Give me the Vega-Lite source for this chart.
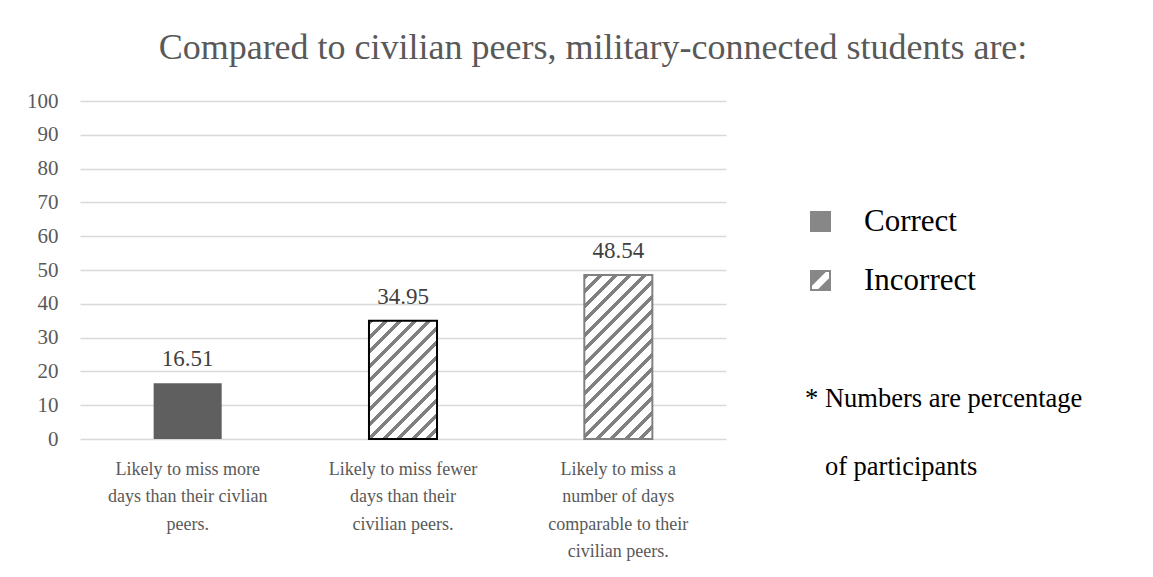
{
  "$schema": "https://vega.github.io/schema/vega-lite/v6.json",
  "autosize": {"type": "none"},
  "padding": {"left": 80, "top": 101, "right": 427, "bottom": 138},
  "width": 646,
  "height": 338,
  "background": "#ffffff",
  "title": {
    "text": "Compared to civilian peers, military-connected students are:",
    "font": "Liberation Serif",
    "fontSize": 36,
    "fontWeight": "normal",
    "color": "#595959",
    "anchor": "middle",
    "dx": 190,
    "offset": 23
  },
  "config": {
    "view": {"stroke": null},
    "font": "Liberation Serif"
  },
  "data": {
    "values": [
      {"statement": "Likely to miss more days than their civlian peers.", "result": "Correct", "percent": 16.51},
      {"statement": "Likely to miss fewer days than their civilian peers.", "result": "Incorrect", "percent": 34.95},
      {"statement": "Likely to miss a number of days comparable to their civilian peers.", "result": "Incorrect", "percent": 48.54}
    ]
  },
  "encoding": {
    "x": {
      "field": "statement",
      "type": "nominal",
      "sort": null,
      "scale": {"paddingInner": 0.684, "paddingOuter": 0.342},
      "axis": {
        "title": null,
        "domain": false,
        "ticks": false,
        "labelAngle": 0,
        "labelFont": "Liberation Serif",
        "labelFontSize": 18,
        "labelLineHeight": 27.5,
        "labelColor": "#595959",
        "labelPadding": 21,
        "labelLimit": 0,
        "labelExpr": "indexof(datum.value, 'more') >= 0 ? ['Likely to miss more', 'days than their civlian', 'peers.'] : indexof(datum.value, 'fewer') >= 0 ? ['Likely to miss fewer', 'days than their', 'civilian peers.'] : ['Likely to miss a', 'number of days', 'comparable to their', 'civilian peers.']"
      }
    },
    "y": {
      "field": "percent",
      "type": "quantitative",
      "scale": {"domain": [0, 100], "nice": false},
      "axis": {
        "title": null,
        "values": [0, 10, 20, 30, 40, 50, 60, 70, 80, 90, 100],
        "domain": false,
        "ticks": false,
        "grid": true,
        "gridColor": "#d9d9d9",
        "gridWidth": 1.3,
        "labelFont": "Liberation Serif",
        "labelFontSize": 21,
        "labelColor": "#595959",
        "labelPadding": 22
      }
    }
  },
  "layer": [
    {
      "mark": {"type": "point", "filled": true, "opacity": 0, "color": "#878787"},
      "encoding": {
        "shape": {
          "field": "result",
          "type": "nominal",
          "scale": {
            "domain": ["Correct", "Incorrect"],
            "range": [
              "square",
              "M-1,-1H1V1H-1Z M-0.81,-0.81V0.81H0.81V-0.81Z M-0.81,-0.81H0.51L-0.81,0.51Z M0.81,-0.21V0.81H-0.21Z"
            ]
          },
          "legend": {
            "title": ["* Numbers are percentage", "\u200b\u00a0\u00a0\u00a0of participants"],
            "titleOrient": "bottom",
            "titleAnchor": "start",
            "titleAlign": "left",
            "titleFont": "Liberation Serif",
            "titleFontSize": 26.5,
            "titleFontWeight": "normal",
            "titleColor": "#000000",
            "titleLineHeight": 68,
            "titleLimit": 500,
            "titlePadding": 90,
            "orient": "none",
            "legendX": 725,
            "legendY": 105,
            "padding": 0,
            "symbolSize": 441,
            "symbolFillColor": "#878787",
            "symbolStrokeWidth": 0,
            "symbolOpacity": 1,
            "labelFont": "Liberation Serif",
            "labelFontSize": 31,
            "labelColor": "#000000",
            "labelOffset": 28,
            "labelLimit": 0,
            "rowPadding": 27
          }
        }
      }
    },
    {
      "mark": {"type": "bar", "strokeWidth": 2},
      "encoding": {
        "fill": {
          "condition": [
            {
              "test": "indexof(datum.statement, 'fewer') >= 0",
              "value": {
                "gradient": "linear", "x1": 0, "y1": 0, "x2": 0.6816, "y2": 1.1834,
                "stops": [
                  {"offset": 0, "color": "#808080"}, {"offset": 0.0273, "color": "#808080"}, {"offset": 0.0273, "color": "#ffffff"}, {"offset": 0.0779, "color": "#ffffff"},
                  {"offset": 0.0779, "color": "#808080"}, {"offset": 0.1052, "color": "#808080"}, {"offset": 0.1052, "color": "#ffffff"}, {"offset": 0.1558, "color": "#ffffff"},
                  {"offset": 0.1558, "color": "#808080"}, {"offset": 0.1830, "color": "#808080"}, {"offset": 0.1830, "color": "#ffffff"}, {"offset": 0.2337, "color": "#ffffff"},
                  {"offset": 0.2337, "color": "#808080"}, {"offset": 0.2609, "color": "#808080"}, {"offset": 0.2609, "color": "#ffffff"}, {"offset": 0.3115, "color": "#ffffff"},
                  {"offset": 0.3115, "color": "#808080"}, {"offset": 0.3388, "color": "#808080"}, {"offset": 0.3388, "color": "#ffffff"}, {"offset": 0.3894, "color": "#ffffff"},
                  {"offset": 0.3894, "color": "#808080"}, {"offset": 0.4167, "color": "#808080"}, {"offset": 0.4167, "color": "#ffffff"}, {"offset": 0.4673, "color": "#ffffff"},
                  {"offset": 0.4673, "color": "#808080"}, {"offset": 0.4946, "color": "#808080"}, {"offset": 0.4946, "color": "#ffffff"}, {"offset": 0.5452, "color": "#ffffff"},
                  {"offset": 0.5452, "color": "#808080"}, {"offset": 0.5725, "color": "#808080"}, {"offset": 0.5725, "color": "#ffffff"}, {"offset": 0.6231, "color": "#ffffff"},
                  {"offset": 0.6231, "color": "#808080"}, {"offset": 0.6504, "color": "#808080"}, {"offset": 0.6504, "color": "#ffffff"}, {"offset": 0.7010, "color": "#ffffff"},
                  {"offset": 0.7010, "color": "#808080"}, {"offset": 0.7282, "color": "#808080"}, {"offset": 0.7282, "color": "#ffffff"}, {"offset": 0.7789, "color": "#ffffff"},
                  {"offset": 0.7789, "color": "#808080"}, {"offset": 0.8061, "color": "#808080"}, {"offset": 0.8061, "color": "#ffffff"}, {"offset": 0.8567, "color": "#ffffff"},
                  {"offset": 0.8567, "color": "#808080"}, {"offset": 0.8840, "color": "#808080"}, {"offset": 0.8840, "color": "#ffffff"}, {"offset": 0.9346, "color": "#ffffff"},
                  {"offset": 0.9346, "color": "#808080"}, {"offset": 0.9619, "color": "#808080"}, {"offset": 0.9619, "color": "#ffffff"}, {"offset": 1, "color": "#ffffff"}
                ]
              }
            },
            {
              "test": "indexof(datum.statement, 'comparable') >= 0",
              "value": {
                "gradient": "linear", "x1": 0, "y1": 0, "x2": 0.5006, "y2": 1.2071,
                "stops": [
                  {"offset": 0, "color": "#808080"}, {"offset": 0.0219, "color": "#808080"}, {"offset": 0.0219, "color": "#ffffff"}, {"offset": 0.0625, "color": "#ffffff"},
                  {"offset": 0.0625, "color": "#808080"}, {"offset": 0.0843, "color": "#808080"}, {"offset": 0.0843, "color": "#ffffff"}, {"offset": 0.1249, "color": "#ffffff"},
                  {"offset": 0.1249, "color": "#808080"}, {"offset": 0.1468, "color": "#808080"}, {"offset": 0.1468, "color": "#ffffff"}, {"offset": 0.1874, "color": "#ffffff"},
                  {"offset": 0.1874, "color": "#808080"}, {"offset": 0.2093, "color": "#808080"}, {"offset": 0.2093, "color": "#ffffff"}, {"offset": 0.2499, "color": "#ffffff"},
                  {"offset": 0.2499, "color": "#808080"}, {"offset": 0.2718, "color": "#808080"}, {"offset": 0.2718, "color": "#ffffff"}, {"offset": 0.3124, "color": "#ffffff"},
                  {"offset": 0.3124, "color": "#808080"}, {"offset": 0.3342, "color": "#808080"}, {"offset": 0.3342, "color": "#ffffff"}, {"offset": 0.3748, "color": "#ffffff"},
                  {"offset": 0.3748, "color": "#808080"}, {"offset": 0.3967, "color": "#808080"}, {"offset": 0.3967, "color": "#ffffff"}, {"offset": 0.4373, "color": "#ffffff"},
                  {"offset": 0.4373, "color": "#808080"}, {"offset": 0.4592, "color": "#808080"}, {"offset": 0.4592, "color": "#ffffff"}, {"offset": 0.4998, "color": "#ffffff"},
                  {"offset": 0.4998, "color": "#808080"}, {"offset": 0.5216, "color": "#808080"}, {"offset": 0.5216, "color": "#ffffff"}, {"offset": 0.5622, "color": "#ffffff"},
                  {"offset": 0.5622, "color": "#808080"}, {"offset": 0.5841, "color": "#808080"}, {"offset": 0.5841, "color": "#ffffff"}, {"offset": 0.6247, "color": "#ffffff"},
                  {"offset": 0.6247, "color": "#808080"}, {"offset": 0.6466, "color": "#808080"}, {"offset": 0.6466, "color": "#ffffff"}, {"offset": 0.6872, "color": "#ffffff"},
                  {"offset": 0.6872, "color": "#808080"}, {"offset": 0.7090, "color": "#808080"}, {"offset": 0.7090, "color": "#ffffff"}, {"offset": 0.7496, "color": "#ffffff"},
                  {"offset": 0.7496, "color": "#808080"}, {"offset": 0.7715, "color": "#808080"}, {"offset": 0.7715, "color": "#ffffff"}, {"offset": 0.8121, "color": "#ffffff"},
                  {"offset": 0.8121, "color": "#808080"}, {"offset": 0.8340, "color": "#808080"}, {"offset": 0.8340, "color": "#ffffff"}, {"offset": 0.8746, "color": "#ffffff"},
                  {"offset": 0.8746, "color": "#808080"}, {"offset": 0.8964, "color": "#808080"}, {"offset": 0.8964, "color": "#ffffff"}, {"offset": 0.9371, "color": "#ffffff"},
                  {"offset": 0.9371, "color": "#808080"}, {"offset": 0.9589, "color": "#808080"}, {"offset": 0.9589, "color": "#ffffff"}, {"offset": 0.9995, "color": "#ffffff"},
                  {"offset": 0.9995, "color": "#808080"}, {"offset": 1, "color": "#808080"}
                ]
              }
            }
          ],
          "value": "#5f5f5f"
        },
        "stroke": {
          "condition": [
            {"test": "indexof(datum.statement, 'fewer') >= 0", "value": "#000000"},
            {"test": "indexof(datum.statement, 'comparable') >= 0", "value": "#808080"}
          ],
          "value": null
        }
      }
    },
    {
      "mark": {
        "type": "text",
        "baseline": "alphabetic",
        "dy": -17,
        "font": "Liberation Serif",
        "fontSize": 23,
        "color": "#404040"
      },
      "encoding": {
        "text": {"field": "percent", "type": "quantitative", "format": ".2f"}
      }
    }
  ]
}
